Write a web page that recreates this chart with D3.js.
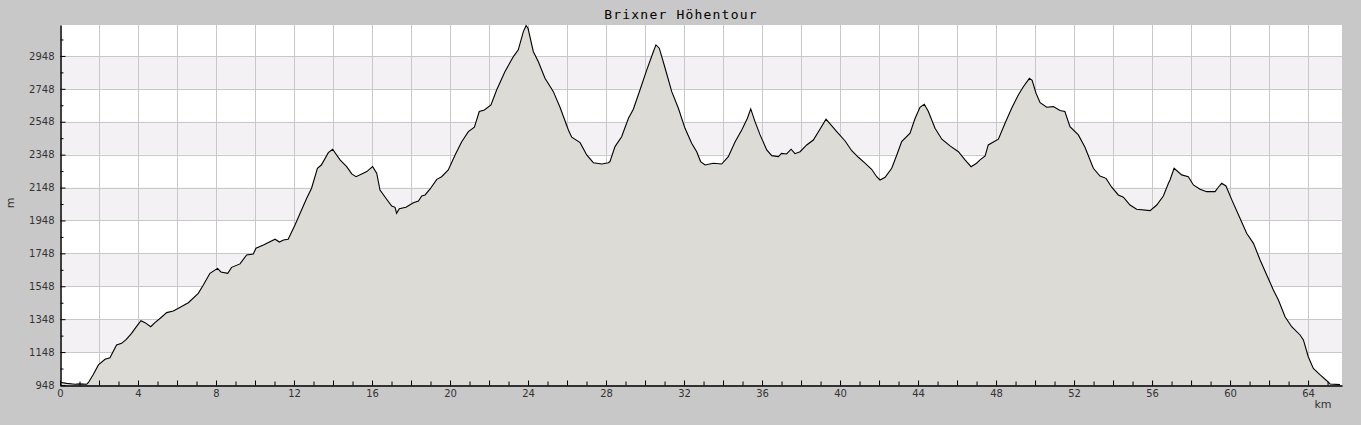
<!DOCTYPE html>
<html>
<head>
<meta charset="utf-8">
<script src="https://cdn.jsdelivr.net/npm/d3@7"></script>
<style>
  html, body { margin: 0; padding: 0; background: #c8c8c8; }
  svg { display: block; }
</style>
</head>
<body>
<svg id="chart" width="1361" height="425"></svg>
<script>
const title = "Brixner Höhentour";
const xLabel = "km";
const yLabel = "m";

const distanceKm = [0,0.34,0.77,1.0,1.37,1.45,1.7,1.97,2.31,2.56,2.9,3.16,3.4,3.67,3.9,4.15,4.36,4.65,4.87,5.2,5.47,5.81,6.07,6.58,7.09,7.35,7.69,8.08,8.25,8.6,8.8,9.23,9.57,9.91,10.05,10.43,11.03,11.25,11.46,11.7,12.05,12.65,12.9,13.2,13.4,13.76,13.98,14.36,14.7,14.96,15.18,15.47,15.73,16.03,16.24,16.41,16.75,17.01,17.18,17.26,17.4,17.74,18.12,18.38,18.55,18.72,18.97,19.32,19.57,19.91,20.26,20.6,20.94,21.25,21.5,21.76,22.1,22.39,22.82,23.25,23.5,23.76,23.9,24.0,24.27,24.53,24.87,25.3,25.64,26.07,26.24,26.67,27.01,27.35,27.78,28.12,28.2,28.46,28.8,29.15,29.4,29.74,30.09,30.43,30.56,30.73,31.03,31.37,31.71,32.05,32.39,32.65,32.85,33.08,33.5,33.93,34.27,34.62,34.96,35.25,35.42,35.64,35.9,36.24,36.5,36.84,37.0,37.26,37.49,37.69,37.95,38.29,38.63,38.97,39.28,39.49,39.83,40.26,40.6,40.94,41.28,41.62,41.88,42.05,42.31,42.65,42.91,43.16,43.59,43.85,44.1,44.32,44.53,44.87,45.22,45.64,46.07,46.41,46.72,47.0,47.18,47.44,47.6,48.12,48.46,48.8,49.14,49.4,49.71,49.85,50.05,50.26,50.6,50.94,51.28,51.53,51.79,52.22,52.56,52.99,53.33,53.64,53.93,54.27,54.53,54.87,55.21,55.9,56.24,56.58,56.84,56.92,57.13,57.52,57.86,58.12,58.46,58.8,59.23,59.4,59.57,59.79,60.09,60.51,60.85,61.2,61.54,61.88,62.22,62.48,62.82,63.16,63.59,63.76,64.01,64.27,64.62,64.96,65.13,65.64];
const elevationM = [965,958,953,955,953,962,1010,1070,1104,1114,1191,1201,1225,1262,1300,1339,1327,1302,1327,1360,1388,1398,1414,1448,1505,1556,1627,1657,1635,1627,1663,1684,1738,1744,1779,1799,1834,1817,1829,1834,1921,2083,2144,2265,2285,2360,2381,2316,2275,2231,2214,2231,2245,2275,2235,2133,2077,2036,2028,1992,2020,2028,2056,2066,2097,2103,2138,2198,2214,2255,2346,2427,2488,2515,2610,2620,2650,2741,2853,2944,2985,3096,3132,3116,2975,2913,2812,2731,2636,2498,2454,2421,2346,2299,2291,2299,2306,2397,2457,2569,2624,2741,2863,2975,3015,2995,2873,2731,2630,2508,2417,2366,2306,2285,2296,2291,2336,2427,2498,2569,2626,2549,2468,2377,2342,2336,2356,2352,2381,2354,2366,2407,2437,2502,2563,2535,2488,2431,2372,2332,2296,2259,2214,2194,2210,2265,2346,2427,2478,2569,2636,2654,2610,2508,2442,2401,2366,2316,2275,2296,2316,2340,2407,2442,2539,2630,2711,2761,2812,2800,2721,2664,2636,2640,2616,2610,2518,2468,2393,2265,2218,2204,2150,2103,2089,2042,2016,2008,2042,2097,2174,2194,2265,2225,2214,2164,2138,2123,2123,2150,2174,2158,2073,1961,1870,1809,1708,1617,1526,1465,1363,1302,1252,1222,1120,1049,1009,974,954,950];

const yLabelTicks = [948,1148,1348,1548,1748,1948,2148,2348,2548,2748,2948];
const yMinorTicks = [1048,1248,1448,1648,1848,2048,2248,2448,2648,2848,3048];
const xLabelTicks = [0,4,8,12,16,20,24,28,32,36,40,44,48,52,56,60,64];

const data = distanceKm.map((d, i) => ({ km: d, m: elevationM[i] }));

const svg = d3.select("#chart");
const pLeft = 60, pRight = 1342, pTop = 25, pBottom = 385;

const x = d3.scaleLinear().domain([0, 65.74]).range([pLeft, pRight]);
const y = d3.scaleLinear().domain([948, 3136]).range([pBottom, pTop]);

// plot background
svg.append("rect").attr("x", pLeft).attr("y", pTop).attr("width", pRight - pLeft).attr("height", pBottom - pTop).attr("fill", "#ffffff");

// alternating bands
const bandStarts = yLabelTicks.filter((v, i) => i % 2 === 1 && i < yLabelTicks.length - 1);
svg.append("g").selectAll("rect").data(bandStarts).join("rect")
  .attr("x", pLeft).attr("width", pRight - pLeft)
  .attr("y", d => y(d + 200)).attr("height", d => y(d) - y(d + 200))
  .attr("fill", "#f3f1f4");

// grid
const grid = svg.append("g").attr("stroke", "#c8c8c8").attr("stroke-width", 1).attr("shape-rendering", "crispEdges");
grid.selectAll("line.h").data(yLabelTicks.slice(1)).join("line").attr("class", "h")
  .attr("x1", pLeft).attr("x2", pRight)
  .attr("y1", d => Math.round(y(d)) + 0.5).attr("y2", d => Math.round(y(d)) + 0.5);
grid.selectAll("line.v").data(d3.range(2, 66, 2)).join("line").attr("class", "v")
  .attr("y1", pTop).attr("y2", pBottom)
  .attr("x1", d => Math.round(x(d)) + 0.5).attr("x2", d => Math.round(x(d)) + 0.5);

// area + line
const area = d3.area().x(d => x(d.km)).y0(y(948)).y1(d => y(d.m));
const line = d3.line().x(d => x(d.km)).y(d => y(d.m));
svg.append("path").datum(data).attr("d", area).attr("fill", "#dcdbd6");
svg.append("path").datum(data).attr("d", line).attr("fill", "none").attr("stroke", "#000").attr("stroke-width", 1.1);

// axes
const fontFam = "'DejaVu Sans', sans-serif";
function styleAxis(g) {
  g.selectAll("text").attr("fill", "#333").style("font-family", fontFam).style("font-size", "10px");
  g.selectAll("line").attr("stroke", "#000");
  g.select(".domain").attr("stroke", "#000");
}
svg.append("g").attr("transform", `translate(${pLeft + 0.5},0)`)
  .call(d3.axisLeft(y).tickValues(yMinorTicks.filter(v => v < 3136)).tickFormat("").tickSizeInner(-3).tickSizeOuter(0))
  .call(styleAxis);
svg.append("g").attr("transform", `translate(${pLeft + 0.5},0)`)
  .call(d3.axisLeft(y).tickValues(yLabelTicks).tickFormat(d3.format("d")).tickSizeInner(-5).tickSizeOuter(0).tickPadding(6))
  .call(styleAxis);

const xOdd = d3.range(1, 66, 2);
const xEven = d3.range(0, 66, 2);
svg.append("g").attr("transform", `translate(0,${pBottom + 0.5})`)
  .call(d3.axisBottom(x).tickValues(xOdd).tickFormat("").tickSizeInner(-4).tickSizeOuter(0))
  .call(styleAxis);
svg.append("g").attr("transform", `translate(0,${pBottom + 0.5})`)
  .call(d3.axisBottom(x).tickValues(xEven).tickFormat(d => xLabelTicks.includes(d) ? d : "").tickSizeInner(-5).tickSizeOuter(0).tickPadding(4))
  .call(styleAxis);

// title and axis labels
svg.append("text").attr("x", 681).attr("y", 18.5).attr("text-anchor", "middle")
  .style("font-family", "'DejaVu Sans Mono', monospace").style("font-size", "13px").style("letter-spacing", "1.2px")
  .attr("fill", "#000").text(title);
svg.append("text").attr("transform", "translate(14,203) rotate(-90)").attr("text-anchor", "middle")
  .style("font-family", fontFam).style("font-size", "11px").attr("fill", "#333").text(yLabel);
svg.append("text").attr("x", 1323).attr("y", 408).attr("text-anchor", "middle")
  .style("font-family", fontFam).style("font-size", "11px").attr("fill", "#333").text(xLabel);
</script>
</body>
</html>
